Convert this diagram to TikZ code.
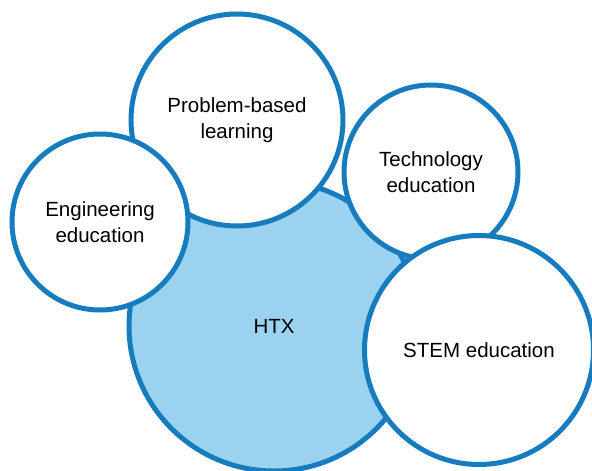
\documentclass[tikz,border=0pt]{standalone}
\usepackage{fontspec}
\setmainfont{Liberation Sans}
\definecolor{ringblue}{RGB}{22,124,190}
\definecolor{htxblue}{RGB}{155,210,240}
\begin{document}
\begin{tikzpicture}[x=1pt, y=-1pt, every node/.style={circle, draw=ringblue, line width=5pt, fill=white, inner sep=0pt, align=center, font=\fontsize{20.5}{25.5}\selectfont}, core/.style={fill=htxblue}]
	\useasboundingbox (0,0) rectangle (592,471);
	\node[core, minimum size=290pt](htx) at (274,326){HTX};
	\node[minimum size=174pt](tech) at (431,172){Technology\\education};
	\node[minimum size=212pt](pbl) at (237,120){Problem-based\\learning};
	\node[minimum size=176pt](eng) at (100,222){Engineering\\education};
	\node[minimum size=229pt](stem) at (479,350){STEM education};
\end{tikzpicture}
\end{document}
